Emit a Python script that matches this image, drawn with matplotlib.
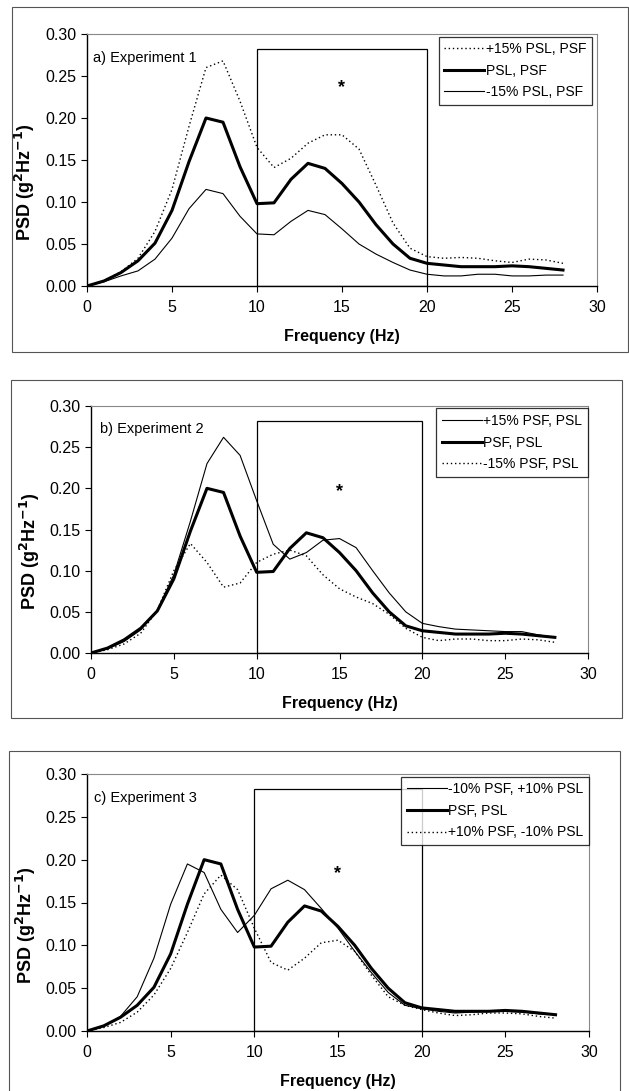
import numpy as np
import matplotlib
matplotlib.use('Agg')
import matplotlib.pyplot as plt
from matplotlib.patches import Rectangle

plt.rcParams['font.family'] = ['Liberation Sans', 'DejaVu Sans']

# frequency (Hz)
freq = np.arange(0, 29)

# reference curve, same in every panel
base = [0.000, 0.006, 0.016, 0.030, 0.051, 0.090, 0.148, 0.200, 0.195, 0.142,
        0.098, 0.099, 0.127, 0.146, 0.140, 0.122, 0.100, 0.073, 0.050, 0.033,
        0.027, 0.025, 0.023, 0.023, 0.023, 0.024, 0.023, 0.021, 0.019]

# a) Experiment 1
a_plus = [0.000, 0.006, 0.017, 0.033, 0.065, 0.115, 0.190, 0.260, 0.268, 0.220,
          0.165, 0.141, 0.152, 0.170, 0.180, 0.180, 0.163, 0.120, 0.075, 0.045,
          0.035, 0.033, 0.034, 0.033, 0.030, 0.028, 0.032, 0.031, 0.027]
a_minus = [0.000, 0.005, 0.012, 0.018, 0.032, 0.057, 0.092, 0.115, 0.110, 0.083,
           0.062, 0.061, 0.077, 0.090, 0.085, 0.068, 0.050, 0.038, 0.028, 0.019,
           0.014, 0.012, 0.012, 0.014, 0.014, 0.012, 0.012, 0.013, 0.013]

# b) Experiment 2
b_plus = [0.000, 0.005, 0.014, 0.028, 0.052, 0.095, 0.160, 0.230, 0.262, 0.240,
          0.185, 0.132, 0.114, 0.122, 0.137, 0.139, 0.128, 0.100, 0.073, 0.050,
          0.036, 0.032, 0.029, 0.028, 0.027, 0.026, 0.026, 0.022, 0.019]
b_minus = [0.000, 0.004, 0.011, 0.024, 0.052, 0.100, 0.133, 0.110, 0.080, 0.085,
           0.110, 0.120, 0.125, 0.118, 0.095, 0.078, 0.068, 0.060, 0.047, 0.030,
           0.019, 0.015, 0.017, 0.017, 0.015, 0.015, 0.017, 0.016, 0.013]

# c) Experiment 3
c_thin = [0.000, 0.006, 0.017, 0.040, 0.085, 0.148, 0.195, 0.185, 0.142, 0.115,
          0.135, 0.166, 0.176, 0.165, 0.143, 0.120, 0.093, 0.068, 0.045, 0.030,
          0.026, 0.023, 0.021, 0.022, 0.023, 0.023, 0.022, 0.020, 0.019]
c_dot = [0.000, 0.004, 0.010, 0.022, 0.042, 0.073, 0.115, 0.160, 0.182, 0.165,
         0.120, 0.080, 0.071, 0.085, 0.103, 0.106, 0.093, 0.065, 0.040, 0.030,
         0.025, 0.021, 0.018, 0.019, 0.021, 0.021, 0.020, 0.017, 0.015]

# highlighted band
band_lo, band_hi, band_top = 10, 20, 0.282

THIN = dict(color='black', lw=0.8, ls='-')
BOLD = dict(color='black', lw=2.2, ls='-')
DOT = dict(color='black', lw=1.0, ls=(0, (1, 2)))

W, H = 629, 1091
fig = plt.figure(figsize=(W / 100, H / 100), dpi=100)


def px_axes(x0, x1, y0, y1):
    # pixel box (top-left origin) -> figure fraction
    return fig.add_axes([x0 / W, 1 - y1 / H, (x1 - x0) / W, (y1 - y0) / H])


def panel_box(x0, y0, x1, y1):
    fig.patches.append(Rectangle((x0 / W, 1 - y1 / H), (x1 - x0) / W, (y1 - y0) / H,
                                 transform=fig.transFigure, fill=False,
                                 ec='#555555', lw=0.8))


def draw(ax, series, title, title_x, star_y, leg_x):
    for y, lab, st in series:
        ax.plot(freq, y, label=lab, **st)
    ax.add_patch(Rectangle((band_lo, 0), band_hi - band_lo, band_top,
                           fill=False, ec='black', lw=0.9))
    ax.text(15, star_y, '*', ha='center', va='center', fontsize=13, fontweight='bold')
    ax.text(title_x, 0.272, title, ha='left', va='center', fontsize=10.5)
    ax.set_xlim(0, 30)
    ax.set_ylim(0, 0.30)
    ax.set_xticks(range(0, 31, 5))
    ax.set_yticks(np.arange(0, 0.301, 0.05))
    ax.yaxis.set_major_formatter(plt.FormatStrFormatter('%.2f'))
    ax.tick_params(direction='out', length=4, width=0.8, labelsize=11.5, colors='black')
    ax.tick_params(axis='x', pad=6)
    for s in ['top', 'right']:
        ax.spines[s].set_linestyle((0, (1, 1)))
        ax.spines[s].set_color('#888888')
        ax.spines[s].set_linewidth(0.8)
    for s in ['left', 'bottom']:
        ax.spines[s].set_linewidth(1.0)
    ax.set_xlabel('Frequency (Hz)', fontsize=11.5, fontweight='bold', labelpad=10)
    ax.set_ylabel(r'PSD (g$^\mathbf{2}$Hz$^\mathbf{-1}$)', fontsize=13,
                  fontweight='bold')
    ax.yaxis.set_label_coords(-0.098, 0.41)
    leg = ax.legend(loc='upper right', bbox_to_anchor=(leg_x, 0.99), fontsize=10,
                    frameon=True, fancybox=False, edgecolor='black',
                    handlelength=2.9, handletextpad=0.1, borderpad=0.4,
                    labelspacing=0.55, borderaxespad=0.0)
    leg.get_frame().set_linewidth(0.9)


panel_box(12, 7, 628, 352)
ax1 = px_axes(87, 597, 34, 286)
draw(ax1, [(a_plus, '+15% PSL, PSF', DOT),
           (base, 'PSL, PSF', BOLD),
           (a_minus, '-15% PSL, PSF', THIN)], 'a) Experiment 1', 0.35, 0.236, 0.99)

panel_box(11, 380, 622, 718)
ax2 = px_axes(91, 588, 406, 653)
draw(ax2, [(b_plus, '+15% PSF, PSL', THIN),
           (base, 'PSF, PSL', BOLD),
           (b_minus, '-15% PSF, PSL', DOT)], 'b) Experiment 2', 0.55, 0.196, 1.0)

panel_box(9, 751, 620, 1100)
ax3 = px_axes(87, 589, 774, 1031)
draw(ax3, [(c_thin, '-10% PSF, +10% PSL', THIN),
           (base, 'PSF, PSL', BOLD),
           (c_dot, '+10% PSF, -10% PSL', DOT)], 'c) Experiment 3', 0.4, 0.184, 1.0)

fig.savefig('out.png', dpi=100)
